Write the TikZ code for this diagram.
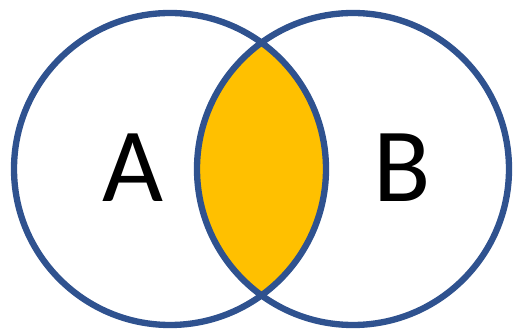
\documentclass[tikz,border=0pt]{standalone}
\usepackage{fontspec}
\setmainfont{Carlito}
\usepackage{tikz}
\usepackage{xcolor}
\definecolor{ringblue}{HTML}{2F528F}
\definecolor{lensgold}{HTML}{FFC000}

\begin{document}
\begin{tikzpicture}[x=0.02cm,y=0.02cm]
  \useasboundingbox (0,0) rectangle (514,331);
  \coordinate (A) at (170,162);
  \coordinate (B) at (353,162);
  \begin{scope}
    \clip (A) circle[radius=156];
    \fill[lensgold] (B) circle[radius=156];
  \end{scope}
  \draw[ringblue,line width=3.6pt] (A) circle[radius=156];
  \draw[ringblue,line width=3.6pt] (B) circle[radius=156];
  \node[font=\fontsize{60}{60}\selectfont] (labA) at (133,163) {A};
  \node[font=\fontsize{60}{60}\selectfont] (labB) at (402,163) {B};
\end{tikzpicture}
\end{document}
